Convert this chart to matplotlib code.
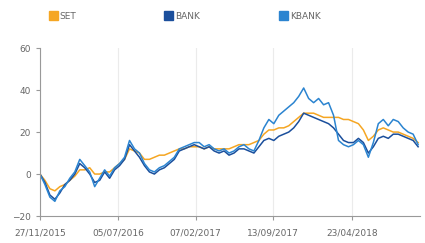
import matplotlib
matplotlib.use("Agg")
import matplotlib.pyplot as plt
import matplotlib.dates as mdates
from matplotlib.patches import Patch
import pandas as pd

start_date = "2015-11-27"
n_points = 77
kbank = [0, -5, -11, -13, -8, -6, -2, 1, 7, 4, 1, -6, -2, 2, -1, 3, 5, 8, 16, 12,
         10, 5, 2, 1, 3, 4, 6, 8, 12, 13, 14, 15, 15, 13, 14, 12, 11, 12, 10, 11,
         13, 14, 12, 11, 16, 22, 26, 24, 28, 30, 32, 34, 37, 41, 36, 34, 36, 33, 34, 28,
         16, 14, 13, 14, 16, 14, 8, 15, 24, 26, 23, 26, 25, 22, 20, 19, 14]
bank = [0, -4, -10, -12, -9, -5, -3, 0, 5, 3, 0, -4, -3, 1, -2, 2, 4, 7, 14, 11,
        8, 4, 1, 0, 2, 3, 5, 7, 11, 12, 13, 14, 13, 12, 13, 11, 10, 11, 9, 10,
        12, 12, 11, 10, 13, 16, 17, 16, 18, 19, 20, 22, 25, 29, 28, 27, 26, 25, 24, 22,
        19, 16, 15, 15, 17, 15, 10, 13, 17, 18, 17, 19, 19, 18, 17, 16, 13]
set_idx = [0, -3, -7, -8, -6, -5, -3, -1, 2, 2, 3, 0, 0, 1, 1, 3, 5, 7, 12, 11,
           10, 7, 7, 8, 9, 9, 10, 11, 12, 12, 13, 13, 13, 12, 13, 12, 12, 12, 12, 13,
           14, 14, 14, 15, 16, 19, 21, 21, 22, 22, 23, 25, 27, 29, 29, 29, 28, 27, 27, 27,
           27, 26, 26, 25, 24, 21, 16, 18, 21, 22, 21, 20, 20, 19, 18, 17, 15]
tick_labels = ["27/11/2015", "05/07/2016", "07/02/2017", "13/09/2017", "23/04/2018"]
series_names = ["SET", "BANK", "KBANK"]
colors = ["#F5A623", "#1B4F9C", "#2B84D0"]

dates = pd.date_range(start_date, periods=n_points, freq="14D")
tick_dates = pd.to_datetime(tick_labels, format="%d/%m/%Y")

fig = plt.figure(figsize=(4.25, 2.43), dpi=100)
ax = fig.add_axes([0.094, 0.111, 0.894, 0.691])

for vals, c in zip([set_idx, bank, kbank], colors):
    ax.plot(dates, vals, color=c, lw=1.1)

ax.set_ylim(-20, 60)
ax.set_yticks([-20, 0, 20, 40, 60])
ax.set_xlim(dates[0], dates[-1] + pd.Timedelta(days=5))
ax.set_xticks(tick_dates)
ax.set_xticklabels(tick_labels)
ax.grid(axis="x", color="#ebebeb", lw=0.8)
ax.set_axisbelow(True)
for s in ["top", "right"]:
    ax.spines[s].set_visible(False)
for s in ["left", "bottom"]:
    ax.spines[s].set_color("#999999")
    ax.spines[s].set_linewidth(0.8)
ax.tick_params(colors="#999999", labelcolor="#666666", labelsize=6.5, length=3, width=0.8)
ax.tick_params(axis="x", pad=6)

leg_x = [45, 160, 275]
for name, c, x in zip(series_names, colors, leg_x):
    fig.legend(handles=[Patch(facecolor=c, edgecolor=c)], labels=[name],
               loc="center left", bbox_to_anchor=(x / 425 - 0.01, 1 - 16 / 243),
               frameon=False, fontsize=6.5, handlelength=1.0, handleheight=1.0,
               handletextpad=0.2, labelcolor="#666666")

fig.savefig("out.png", dpi=100)
